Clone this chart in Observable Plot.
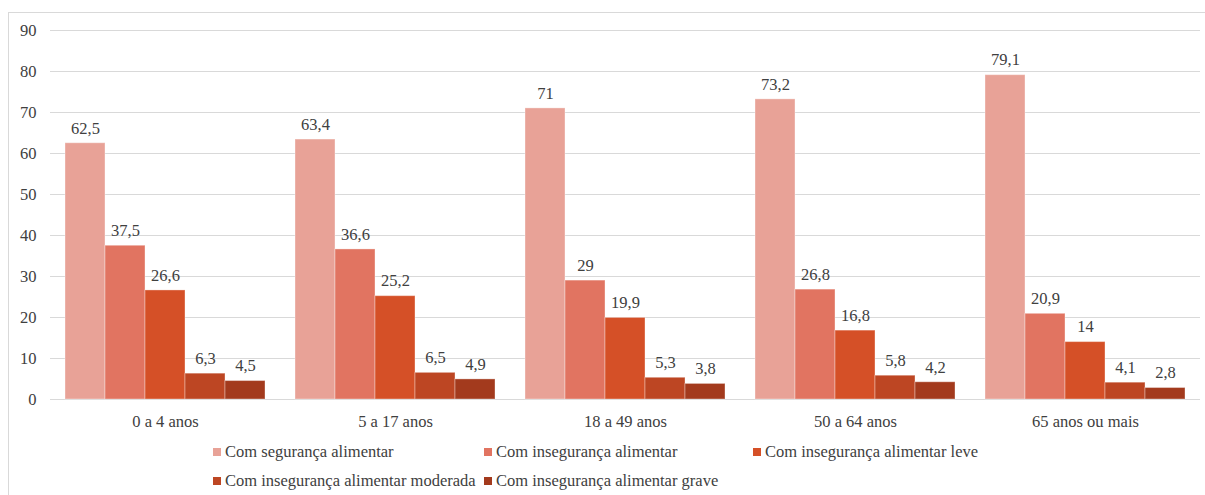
<!DOCTYPE html>
<html>
<head>
<meta charset="utf-8">
<script src="https://cdn.jsdelivr.net/npm/d3@7"></script>
<script src="https://cdn.jsdelivr.net/npm/@observablehq/plot@0.6"></script>
<style>
  body { margin: 0; background: #fff; overflow: hidden; }
  .serif { font-family: "Liberation Serif"; }
  #frame { position: absolute; left: 8px; top: 12px; width: 1196px; height: 482px;
           border-left: 1px solid #d9d9d9; border-top: 1px solid #d9d9d9; }
  #chart { position: absolute; left: 0; top: 0; }
  #legend { position: absolute; left: 0; top: 0; width: 1205px; height: 495px; }
  .item { position: absolute; display: flex; align-items: center; white-space: nowrap; font-size: 16.5px; color: #404040; }
  .sw { width: 8px; height: 8px; margin-right: 4px; }
</style>
</head>
<body class="serif">
<div id="frame"></div>
<div id="chart"></div>
<div id="legend" class="serif"></div>
<script>
// Age groups along the horizontal axis
const groups = ["0 a 4 anos", "5 a 17 anos", "18 a 49 anos", "50 a 64 anos", "65 anos ou mais"];

// Food security categories (legend order)
const series = [
  "Com segurança alimentar",
  "Com insegurança alimentar",
  "Com insegurança alimentar leve",
  "Com insegurança alimentar moderada",
  "Com insegurança alimentar grave"
];

// Percentages per category, one entry per age group
const seguranca = [62.5, 63.4, 71, 73.2, 79.1];
const inseguranca = [37.5, 36.6, 29, 26.8, 20.9];
const insegLeve = [26.6, 25.2, 19.9, 16.8, 14];
const insegModerada = [6.3, 6.5, 5.3, 5.8, 4.1];
const insegGrave = [4.5, 4.9, 3.8, 4.2, 2.8];

const yTicks = [0, 10, 20, 30, 40, 50, 60, 70, 80, 90];

const colors = ["#e8a297", "#e17461", "#d55027", "#bd4623", "#a33a1d"];

const valuesBySeries = [seguranca, inseguranca, insegLeve, insegModerada, insegGrave];
const rows = [];
groups.forEach((g, gi) => {
  series.forEach((s, si) => {
    rows.push({group: g, series: s, value: valuesBySeries[si][gi]});
  });
});

const fmt = v => String(v).replace(".", ",");
const textColor = "#404040";

const chart = Plot.plot({
  width: 1205,
  height: 440,
  marginLeft: 50,
  marginRight: 5,
  marginTop: 30,
  marginBottom: 41,
  style: {fontFamily: "Liberation Serif", fontSize: "16.5px", color: textColor, background: "transparent"},
  fx: {domain: groups, padding: 0, label: null, axis: "bottom", tickSize: 0, tickPadding: 16},
  x: {domain: series, paddingInner: 0, paddingOuter: 0.375, axis: null},
  y: {domain: [0, 90], ticks: yTicks, label: null, tickSize: 0, tickPadding: 14},
  color: {domain: series, range: colors},
  marks: [
    Plot.ruleY(yTicks, {stroke: "#d9d9d9", strokeWidth: 1}),
    Plot.barY(rows, {fx: "group", x: "series", y: "value", fill: "series",
                     stroke: "#ffffff", strokeOpacity: 0.35, strokeWidth: 1}),
    Plot.text(rows, {fx: "group", x: "series", y: "value", text: d => fmt(d.value),
                     dy: -15, fill: textColor, fontSize: 16.5})
  ]
});
document.getElementById("chart").appendChild(chart);

// Legend laid out in three columns over two rows
const legendPos = [
  [213, 451.5], [484, 451.5], [753, 451.5],
  [213, 481], [484, 481]
];
const legend = document.getElementById("legend");
series.forEach((s, i) => {
  const item = document.createElement("div");
  item.className = "item serif";
  item.style.left = legendPos[i][0] + "px";
  item.style.top = (legendPos[i][1] - 10) + "px";
  item.style.height = "20px";
  const sw = document.createElement("span");
  sw.className = "sw";
  sw.style.background = colors[i];
  const label = document.createElement("span");
  label.textContent = s;
  item.appendChild(sw);
  item.appendChild(label);
  legend.appendChild(item);
});
</script>
</body>
</html>
